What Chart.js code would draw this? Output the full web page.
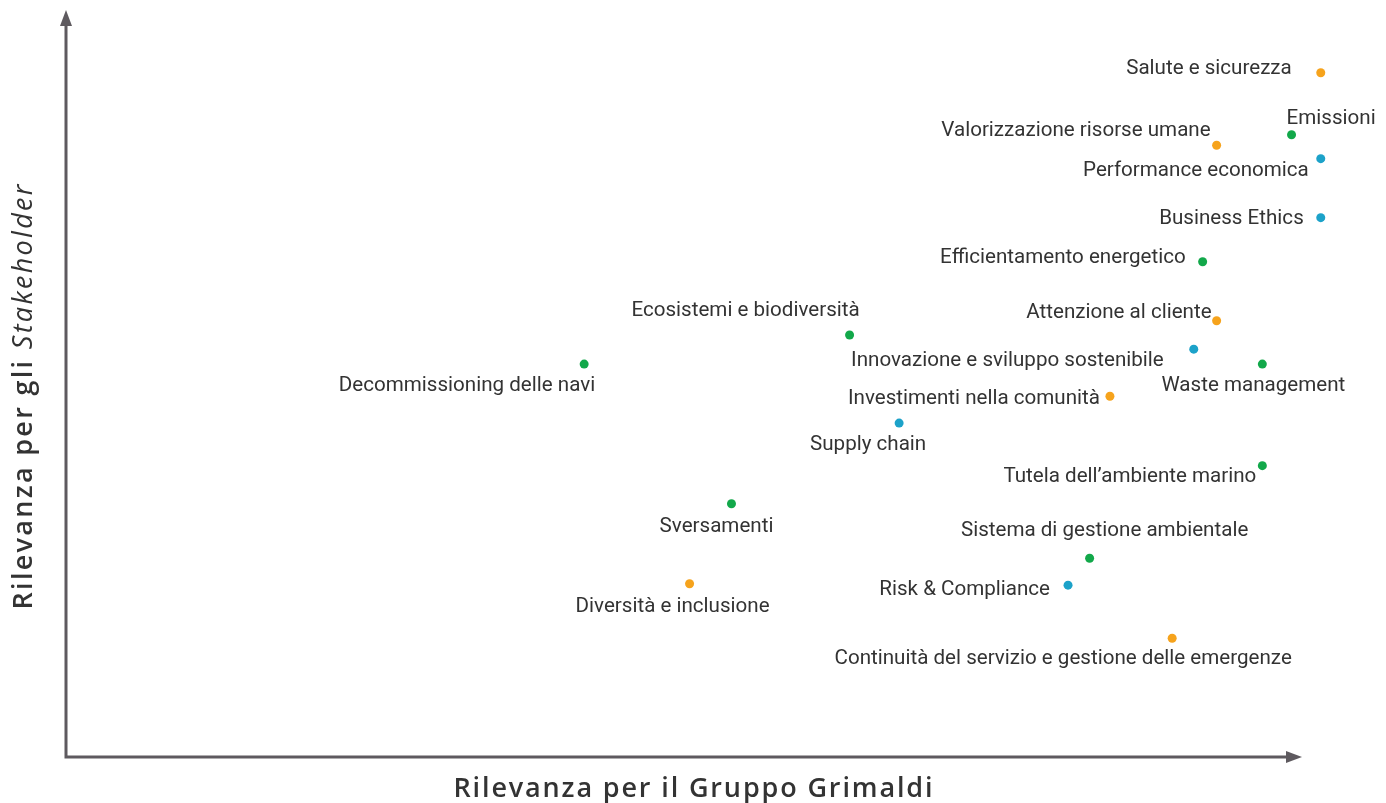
<!DOCTYPE html>
<html>
<head>
<meta charset="utf-8">
<script src="https://cdn.jsdelivr.net/npm/chart.js@4/dist/chart.umd.min.js"></script>
<style>
  html, body { margin: 0; padding: 0; background: #ffffff; }
  #wrap { position: relative; width: 1386px; height: 803px; }
</style>
</head>
<body>
<div id="wrap"><canvas id="c"></canvas></div>
<script>
// ---- data ----
const topics = [
  'Salute e sicurezza',
  'Emissioni',
  'Valorizzazione risorse umane',
  'Performance economica',
  'Business Ethics',
  'Efficientamento energetico',
  'Attenzione al cliente',
  'Innovazione e sviluppo sostenibile',
  'Waste management',
  'Investimenti nella comunità',
  'Supply chain',
  'Ecosistemi e biodiversità',
  'Decommissioning delle navi',
  'Tutela dell\u2019ambiente marino',
  'Sistema di gestione ambientale',
  'Risk & Compliance',
  'Sversamenti',
  'Diversità e inclusione',
  'Continuità del servizio e gestione delle emergenze'
];
// Rilevanza per il Gruppo Grimaldi (x)
const relGruppo = [9.88, 9.65, 9.06, 9.88, 9.88, 8.95, 9.06, 8.88, 9.42, 8.22, 6.56, 6.17, 4.08, 9.42, 8.06, 7.89, 5.24, 4.91, 8.71];
// Rilevanza per gli Stakeholder (y)
const relStakeholder = [9.16, 8.33, 8.19, 8.01, 7.22, 6.63, 5.84, 5.46, 5.26, 4.83, 4.47, 5.65, 5.26, 3.90, 2.66, 2.30, 3.39, 2.32, 1.59];
// area tematica: S = sociale, A = ambientale, G = governance/economica
const area = ['S','A','S','G','G','A','S','G','A','S','G','A','A','A','A','G','A','S','S'];
const areaKeys = ['S','A','G'];
const xTitle = 'Rilevanza per il Gruppo Grimaldi';
const yTitleParts = ['Rilevanza per gli ', 'Stakeholder'];

// ---- presentation ----
const areaColors = { S: '#f6a31c', A: '#12a84a', G: '#1ca2c9' };
// label placement: [align, dx, dy] relative to the point (layout only)
const labelPlacement = [
  ['right', -29, -4],
  ['left', -5, -16],
  ['right', -6, -14],
  ['right', -12, 12],
  ['right', -17, 1],
  ['right', -17, -4],
  ['right', -5, -8],
  ['right', -30, 12],
  ['center', -9, 22],
  ['right', -10, 3],
  ['center', -31, 22],
  ['center', -104, -24],
  ['right', 11, 22],
  ['right', -6, 11],
  ['center', 15, -28],
  ['right', -18, 5],
  ['center', -15, 23],
  ['center', -17, 23],
  ['center', -109, 21]
];
const LABEL_FONT = '21px Roboto, "Liberation Sans", sans-serif';
const LABEL_SCALE_X = 0.98;
const AXIS_COLOR = '#5e5a5f';
const TITLE_COLOR = '#333333';

// draw text with tracking so it spans a given width
function spacedText(ctx, parts, x, y, targetWidth) {
  let n = 0, natural = 0;
  parts.forEach(([t, f]) => {
    ctx.font = f;
    for (const ch of t) { natural += ctx.measureText(ch).width; n++; }
  });
  const sp = (targetWidth - natural) / (n - 1);
  let cx = x - targetWidth / 2;
  ctx.textAlign = 'left';
  parts.forEach(([t, f]) => {
    ctx.font = f;
    for (const ch of t) { ctx.fillText(ch, cx, y); cx += ctx.measureText(ch).width + sp; }
  });
}

const datasets = areaKeys.map(k => ({
  label: k,
  data: topics.map((t, i) => area[i] === k ? { x: relGruppo[i], y: relStakeholder[i] } : null).filter(Boolean),
  backgroundColor: areaColors[k],
  borderWidth: 0,
  pointRadius: 4.5,
  pointHoverRadius: 4.5,
  clip: false
}));

const decor = {
  id: 'decor',
  beforeDatasetsDraw(chart) {
    const { ctx, chartArea: a, scales } = chart;
    const x0 = scales.x.getPixelForValue(0);
    const y0 = scales.y.getPixelForValue(0);
    const xEnd = a.right - 34;
    const yEnd = a.top;
    ctx.save();
    ctx.strokeStyle = AXIS_COLOR;
    ctx.fillStyle = AXIS_COLOR;
    ctx.lineWidth = 3;
    ctx.beginPath();
    ctx.moveTo(x0, y0 + 1.5);
    ctx.lineTo(x0, yEnd + 10);
    ctx.moveTo(x0 - 1.5, y0);
    ctx.lineTo(xEnd - 10, y0);
    ctx.stroke();
    // arrow heads
    ctx.beginPath();
    ctx.moveTo(x0, yEnd);
    ctx.lineTo(x0 - 6, yEnd + 16);
    ctx.lineTo(x0 + 6, yEnd + 16);
    ctx.closePath();
    ctx.fill();
    ctx.beginPath();
    ctx.moveTo(xEnd, y0);
    ctx.lineTo(xEnd - 16, y0 - 6);
    ctx.lineTo(xEnd - 16, y0 + 6);
    ctx.closePath();
    ctx.fill();

    // axis titles
    ctx.fillStyle = TITLE_COLOR;
    ctx.textBaseline = 'middle';
    const fb = '600 27px "Open Sans", sans-serif';
    const fi = 'italic 400 27px "Open Sans", sans-serif';
    spacedText(ctx, [[xTitle, fb]], 693, 789, 479);

    ctx.save();
    ctx.translate(24, 397);
    ctx.rotate(-Math.PI / 2);
    spacedText(ctx, [[yTitleParts[0], fb], [yTitleParts[1], fi]], 0, 0, 425);
    ctx.restore();
    ctx.restore();
  },
  afterDatasetsDraw(chart) {
    const { ctx, scales } = chart;
    ctx.save();
    ctx.font = LABEL_FONT;
    ctx.fillStyle = '#333333';
    ctx.textBaseline = 'middle';
    topics.forEach((t, i) => {
      const px = scales.x.getPixelForValue(relGruppo[i]);
      const py = scales.y.getPixelForValue(relStakeholder[i]);
      const [al, dx, dy] = labelPlacement[i];
      const w = ctx.measureText(t).width * LABEL_SCALE_X;
      let lx = px + dx;
      if (al === 'right') lx -= w;
      else if (al === 'center') lx -= w / 2;
      ctx.save();
      ctx.translate(lx, py + dy);
      ctx.scale(LABEL_SCALE_X, 1);
      ctx.textAlign = 'left';
      ctx.fillText(t, 0, 0);
      ctx.restore();
    });
    ctx.restore();
  }
};

new Chart(document.getElementById('c'), {
  type: 'scatter',
  data: { datasets },
  options: {
    responsive: true,
    maintainAspectRatio: false,
    animation: false,
    layout: { padding: { left: 66, right: 50, top: 10, bottom: 46 } },
    scales: {
      x: { display: false, min: 0, max: 10 },
      y: { display: false, min: 0, max: 10 }
    },
    plugins: { legend: { display: false }, tooltip: { enabled: false } }
  },
  plugins: [decor]
});
</script>
</body>
</html>
